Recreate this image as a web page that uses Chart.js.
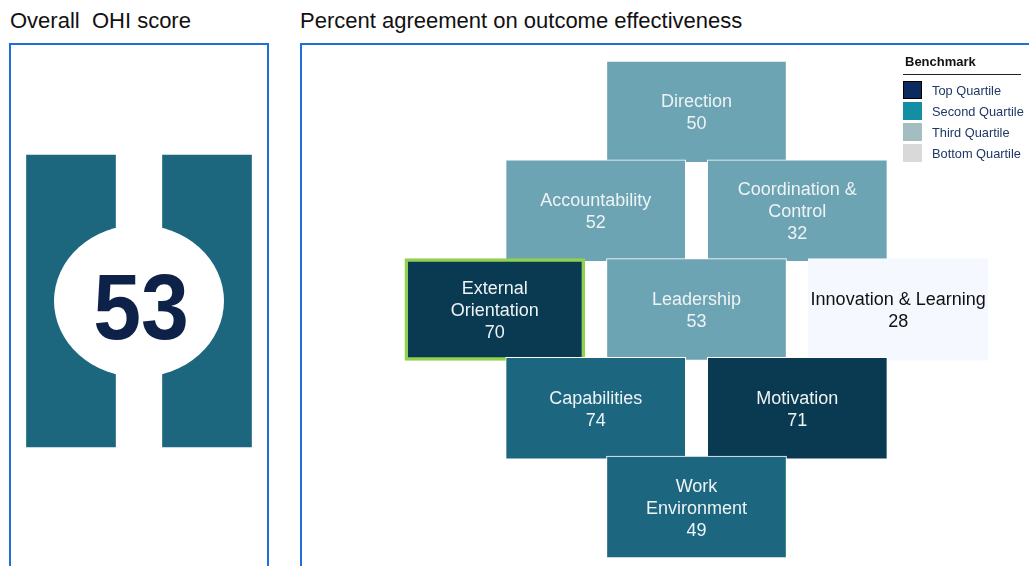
<!DOCTYPE html>
<html><head><meta charset="utf-8">
<script src="https://cdn.jsdelivr.net/npm/chart.js@4"></script>
<style>
html,body{margin:0;padding:0;background:#fff;width:1029px;height:566px;overflow:hidden;font-family:"Liberation Sans",Arial,sans-serif;}
.title{position:absolute;top:8px;font-size:22px;line-height:26px;color:#111;white-space:nowrap}
.frame{position:absolute;top:43px;height:620px;border:2px solid #1E6FD6;box-sizing:border-box}
canvas{position:absolute;left:0;top:0}
.lg{position:absolute;white-space:nowrap}
</style></head>
<body>
<div class="title" style="left:10px">Overall&nbsp; OHI score</div>
<div class="title" style="left:300px">Percent agreement on outcome effectiveness</div>
<div class="frame" style="left:9px;width:260px"></div>
<div class="frame" style="left:300px;width:800px"></div>
<canvas id="ohi" width="300" height="566"></canvas>
<canvas id="main" width="1029" height="566"></canvas>
<div id="legend"></div>
<script>
// ---- data ----
const overallScore = [53];
const categories = ['Direction','Accountability','Coordination & Control','External Orientation','Leadership','Innovation & Learning','Capabilities','Motivation','Work Environment'];
const labelLines = [['Direction'],['Accountability'],['Coordination &','Control'],['External','Orientation'],['Leadership'],['Innovation & Learning'],['Capabilities'],['Motivation'],['Work','Environment']];
const scores = [50,52,32,70,53,28,74,71,49];
const quartile = ['Third','Third','Third','Top','Third','Bottom','Second','Top','Second'];
const gridCol = [2,1,3,0,2,4,1,3,2];
const gridRow = [0,1,1,2,2,2,3,3,4];
const highlighted = ['External Orientation'];
const benchmarkLabels = ['Top Quartile','Second Quartile','Third Quartile','Bottom Quartile'];

// ---- styles ----
const tileColor = {Top:'#093A51', Second:'#1C677F', Third:'#6DA4B4', Bottom:'#F5F8FE'};
const tileText = {Top:'#EEF3F5', Second:'#EEF3F5', Third:'#EEF3F5', Bottom:'#111111'};
const legendColor = {'Top Quartile':'#0B2A5E','Second Quartile':'#148EA3','Third Quartile':'#A3BDC1','Bottom Quartile':'#D9D9D9'};
const FONT = '"Liberation Sans", Arial, sans-serif';

// ---- legend ----
(function(){
  const lg = document.getElementById('legend');
  let h = '<div class="lg" style="left:905px;top:53px;font-size:13px;font-weight:bold;color:#111;line-height:18px">Benchmark</div>';
  h += '<div class="lg" style="left:903px;top:74px;width:118px;height:1px;background:#222"></div>';
  benchmarkLabels.forEach((t,i)=>{
    const top = 81 + i*21;
    const border = i===0 ? 'border:1.5px solid #000;box-sizing:border-box;' : '';
    h += `<div class="lg" style="left:903px;top:${top}px;width:19px;height:18px;background:${legendColor[t]};${border}"></div>`;
    h += `<div class="lg" style="left:932px;top:${top+2}px;font-size:12.8px;line-height:16px;color:#1F3864">${t}</div>`;
  });
  lg.innerHTML = h;
})();

// ---- left panel: overall score ----
new Chart(document.getElementById('ohi'), {
  type:'bar',
  data:{labels:['L','R'], datasets:[{data:[[0,1],[0,1]], backgroundColor:'#1C677D', barThickness:89, borderWidth:0, clip:false}]},
  options:{
    responsive:false, animation:false, events:[], devicePixelRatio:1,
    layout:{padding:{left:71,right:93,top:155,bottom:119}},
    scales:{x:{display:false, offset:false}, y:{display:false, min:0, max:1}},
    plugins:{legend:{display:false}, tooltip:{enabled:false}}
  },
  plugins:[{id:'circle', afterDatasetsDraw(c){
    const a=c.chartArea, ctx=c.ctx;
    const cx=(a.left+a.right)/2, cy=(a.top+a.bottom)/2;
    ctx.save();
    ctx.fillStyle='#fff';
    ctx.beginPath(); ctx.ellipse(cx, cy, 85, 76, 0, 0, Math.PI*2); ctx.fill();
    ctx.translate(cx+2, cy+38);
    ctx.scale(1, 1.07);
    ctx.fillStyle='#0E2148';
    ctx.font='bold 86px '+FONT;
    ctx.textAlign='center'; ctx.textBaseline='alphabetic';
    ctx.fillText(String(overallScore[0]), 0, 0);
    ctx.restore();
  }}]
});

// ---- right panel: tiles ----
new Chart(document.getElementById('main'), {
  type:'bar',
  data:{
    labels: categories,
    datasets:[{
      data: categories.map((c,i)=>({x:gridCol[i], y:[gridRow[i], gridRow[i]+1.03]})),
      backgroundColor: quartile.map(q=>tileColor[q]),
      borderColor: categories.map((c,i)=> highlighted.includes(c) ? '#92D050' : (quartile[i]==='Bottom' ? tileColor.Bottom : '#FFFFFF')),
      borderWidth: categories.map(c=> highlighted.includes(c) ? 3.5 : 1),
      borderSkipped:false,
      barThickness:180,
      clip:false
    }]
  },
  options:{
    responsive:false, animation:false, events:[], devicePixelRatio:1,
    layout:{padding:{left:394,right:30,top:61,bottom:11}},
    scales:{
      x:{type:'linear', min:-1, max:5, display:false, offset:false},
      y:{type:'linear', min:0, max:5, reverse:true, display:false}
    },
    plugins:{legend:{display:false}, tooltip:{enabled:false}}
  },
  plugins:[{id:'tileLabels', afterDatasetsDraw(chart){
    const ctx=chart.ctx, meta=chart.getDatasetMeta(0);
    ctx.save();
    ctx.textAlign='center'; ctx.textBaseline='alphabetic';
    meta.data.forEach((bar,i)=>{
      const lines=[...labelLines[i], String(scores[i])];
      let size=18;
      ctx.font=size+'px '+FONT;
      const maxW = Math.max(...lines.map(t=>ctx.measureText(t).width));
      const avail = bar.width - 3;
      if (maxW > avail) { size = size*avail/maxW; ctx.font=size+'px '+FONT; }
      ctx.fillStyle = tileText[quartile[i]];
      const cy=(bar.y+bar.base)/2;
      lines.forEach((t,k)=>ctx.fillText(t, bar.x, cy+6.5+(k-(lines.length-1)/2)*22));
    });
    ctx.restore();
  }}]
});
</script>
</body></html>
